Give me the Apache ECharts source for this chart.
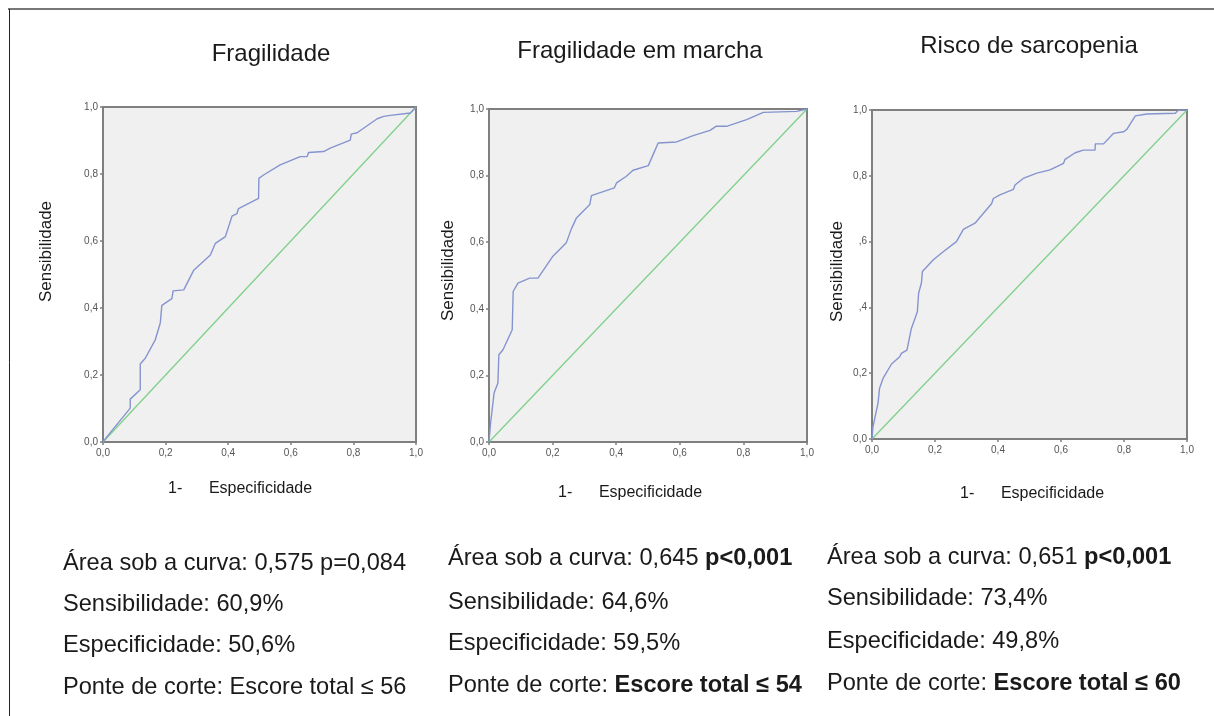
<!DOCTYPE html>
<html>
<head>
<meta charset="utf-8">
<script src="https://cdn.jsdelivr.net/npm/echarts@6/dist/echarts.min.js"></script>
<style>
html,body{margin:0;padding:0;background:#fff;}
#chart{width:1214px;height:716px;}
</style>
</head>
<body>
<div id="chart"></div>
<script>
// ---- Data ----
const titles = ['Fragilidade', 'Fragilidade em marcha', 'Risco de sarcopenia'];
const xAxisTitle = '1-      Especificidade';
const yAxisTitle = 'Sensibilidade';
const tickLabelsX = ['0,0', '0,2', '0,4', '0,6', '0,8', '1,0'];
const tickLabelsY1 = ['0,0', '0,2', '0,4', '0,6', '0,8', '1,0'];
const tickLabelsY2 = ['0,0', '0,2', '0,4', '0,6', '0,8', '1,0'];
const tickLabelsY3 = ['0,0', '0,2', ',4', ',6', '0,8', '1,0'];

// ROC curve 1: Fragilidade (1 - especificidade, sensibilidade)
const fpr1 = [0, 0.018, 0.087, 0.087, 0.119, 0.119, 0.135, 0.167, 0.183, 0.188, 0.22, 0.224, 0.258, 0.29, 0.343, 0.359, 0.391, 0.412, 0.428, 0.433, 0.497, 0.498, 0.513, 0.566, 0.63, 0.652, 0.657, 0.705, 0.726, 0.79, 0.793, 0.812, 0.876, 0.897, 0.918, 0.982, 1];
const tpr1 = [0, 0.022, 0.101, 0.128, 0.156, 0.233, 0.25, 0.305, 0.355, 0.408, 0.428, 0.451, 0.454, 0.513, 0.558, 0.593, 0.613, 0.674, 0.682, 0.697, 0.727, 0.787, 0.797, 0.827, 0.852, 0.852, 0.864, 0.867, 0.877, 0.901, 0.919, 0.923, 0.965, 0.972, 0.975, 0.982, 1];

// ROC curve 2: Fragilidade em marcha
const fpr2 = [0, 0.005, 0.016, 0.028, 0.031, 0.044, 0.073, 0.076, 0.091, 0.128, 0.154, 0.201, 0.243, 0.259, 0.275, 0.317, 0.322, 0.394, 0.401, 0.432, 0.453, 0.501, 0.516, 0.532, 0.59, 0.642, 0.695, 0.714, 0.747, 0.81, 0.863, 0.968, 1];
const tpr2 = [0, 0.057, 0.147, 0.177, 0.262, 0.277, 0.337, 0.452, 0.477, 0.492, 0.492, 0.558, 0.598, 0.64, 0.673, 0.713, 0.74, 0.763, 0.778, 0.798, 0.816, 0.83, 0.863, 0.898, 0.901, 0.92, 0.936, 0.948, 0.948, 0.968, 0.99, 0.993, 1];

// ROC curve 3: Risco de sarcopenia
const fpr3 = [0, 0.003, 0.019, 0.024, 0.035, 0.062, 0.088, 0.093, 0.111, 0.125, 0.144, 0.148, 0.157, 0.16, 0.194, 0.226, 0.268, 0.29, 0.327, 0.38, 0.385, 0.406, 0.449, 0.454, 0.48, 0.523, 0.565, 0.608, 0.613, 0.645, 0.671, 0.708, 0.709, 0.735, 0.767, 0.799, 0.809, 0.836, 0.873, 0.963, 0.973, 1];
const tpr3 = [0, 0.037, 0.108, 0.154, 0.184, 0.228, 0.25, 0.26, 0.27, 0.336, 0.387, 0.443, 0.475, 0.509, 0.544, 0.569, 0.6, 0.637, 0.656, 0.716, 0.731, 0.742, 0.759, 0.772, 0.792, 0.808, 0.818, 0.838, 0.85, 0.87, 0.878, 0.878, 0.897, 0.897, 0.929, 0.934, 0.941, 0.982, 0.988, 0.99, 1, 1];

// Reference line
const diagX = [0, 1];
const diagY = [0, 1];

// Statistics text
const aucValues = ['0,575', '0,645', '0,651'];
const pValues = ['p=0,084', 'p<0,001', 'p<0,001'];
const pBold = [false, true, true];
const sensValues = ['60,9%', '64,6%', '73,4%'];
const specValues = ['50,6%', '59,5%', '49,8%'];
const cutoffValues = ['Escore total ≤ 56', 'Escore total ≤ 54', 'Escore total ≤ 60'];
const cutoffBold = [false, true, true];

// ---- Layout ----
const FONT = '"Liberation Sans", Arial, sans-serif';
const STAT_SIZE = 23.6;
const grids = [
  {left: 103, top: 107, width: 313, height: 335},
  {left: 489, top: 109, width: 318, height: 333},
  {left: 872, top: 110, width: 315, height: 329}
];
const titlePos = [[271, 54.5], [640, 51], [1029, 46]];
const xTitlePos = [[168, 488.5], [558, 492.5], [960, 493.5]];
const yTitlePos = [[46, 251.5], [448, 270.5], [837.5, 271.5]];
const statsX = [63, 448, 827];
const statsY = [[563.5, 604.5, 645, 687], [558.5, 602, 643.5, 685], [557, 598.5, 641, 683.5]];

const zip = (a, b) => a.map((v, i) => [v, b[i]]);
const curves = [zip(fpr1, tpr1), zip(fpr2, tpr2), zip(fpr3, tpr3)];
const yLabels = [tickLabelsY1, tickLabelsY2, tickLabelsY3];

const axisColor = '#7f7f7f';
const labelColor = '#555';

const xAxes = grids.map((g, i) => ({
  type: 'value', gridIndex: i, min: 0, max: 1, interval: 0.2,
  axisLine: {show: true, onZero: false, lineStyle: {color: axisColor, width: 2}},
  axisTick: {show: true, length: 3, lineStyle: {color: axisColor, width: 1.5}},
  axisLabel: {color: labelColor, fontSize: 10, fontFamily: FONT, margin: 6,
    formatter: v => tickLabelsX[Math.round(v / 0.2)]},
  splitLine: {show: false}
}));
const yAxes = grids.map((g, i) => ({
  type: 'value', gridIndex: i, min: 0, max: 1, interval: 0.2,
  axisLine: {show: true, onZero: false, lineStyle: {color: axisColor, width: 2}},
  axisTick: {show: true, length: 3, lineStyle: {color: axisColor, width: 1.5}},
  axisLabel: {color: labelColor, fontSize: 10, fontFamily: FONT, margin: 5,
    formatter: v => yLabels[i][Math.round(v / 0.2)]},
  splitLine: {show: false}
}));

const series = [];
curves.forEach((c, i) => {
  series.push({
    type: 'line', xAxisIndex: i, yAxisIndex: i, data: zip(diagX, diagY),
    showSymbol: false, silent: true, animation: false,
    lineStyle: {color: '#7fd08a', width: 1.3}
  });
  series.push({
    type: 'line', xAxisIndex: i, yAxisIndex: i, data: c,
    showSymbol: false, silent: true, animation: false,
    lineStyle: {color: '#8594cf', width: 1.4}
  });
});

const graphics = [];
// page frame lines
graphics.push({type: 'line', shape: {x1: 8, y1: 9, x2: 1214, y2: 9}, style: {stroke: '#777', lineWidth: 2}});
graphics.push({type: 'line', shape: {x1: 9.5, y1: 9, x2: 9.5, y2: 716}, style: {stroke: '#222', lineWidth: 1}});

function txt(x, y, text, size, extra) {
  return Object.assign({
    type: 'text', x: x, y: y,
    style: Object.assign({
      text: text, fill: '#1a1a1a', fontSize: size, fontFamily: FONT,
      align: 'left', verticalAlign: 'middle', textAlign: 'left', textVerticalAlign: 'middle'
    }, extra && extra.style || {})
  }, extra && extra.el || {});
}

titles.forEach((t, i) => {
  graphics.push(txt(titlePos[i][0], titlePos[i][1], t, 24, {style: {align: 'center', textAlign: 'center'}}));
  graphics.push(txt(xTitlePos[i][0], xTitlePos[i][1], xAxisTitle, 16));
  graphics.push(txt(yTitlePos[i][0], yTitlePos[i][1], yAxisTitle, 17,
    {style: {align: 'center', textAlign: 'center'}, el: {rotation: Math.PI / 2}}));
  const rich = {n: {fontSize: STAT_SIZE, fontFamily: FONT, fill: '#1a1a1a'},
                b: {fontSize: STAT_SIZE, fontFamily: FONT, fill: '#1a1a1a', fontWeight: 'bold'}};
  const lines = [
    '{n|Área sob a curva: ' + aucValues[i] + ' }' + (pBold[i] ? '{b|' : '{n|') + pValues[i] + '}',
    '{n|Sensibilidade: ' + sensValues[i] + '}',
    '{n|Especificidade: ' + specValues[i] + '}',
    '{n|Ponte de corte: }' + (cutoffBold[i] ? '{b|' : '{n|') + cutoffValues[i] + '}'
  ];
  lines.forEach((l, k) => {
    graphics.push(txt(statsX[i], statsY[i][k], l, STAT_SIZE, {style: {rich: rich}}));
  });
});

const chart = echarts.init(document.getElementById('chart'), null, {renderer: 'canvas'});
chart.setOption({
  animation: false,
  backgroundColor: '#ffffff',
  grid: grids.map(g => Object.assign({show: true, backgroundColor: '#f0f0f0', borderColor: axisColor, borderWidth: 2, containLabel: false}, g)),
  xAxis: xAxes,
  yAxis: yAxes,
  series: series,
  graphic: graphics
});
</script>
</body>
</html>
